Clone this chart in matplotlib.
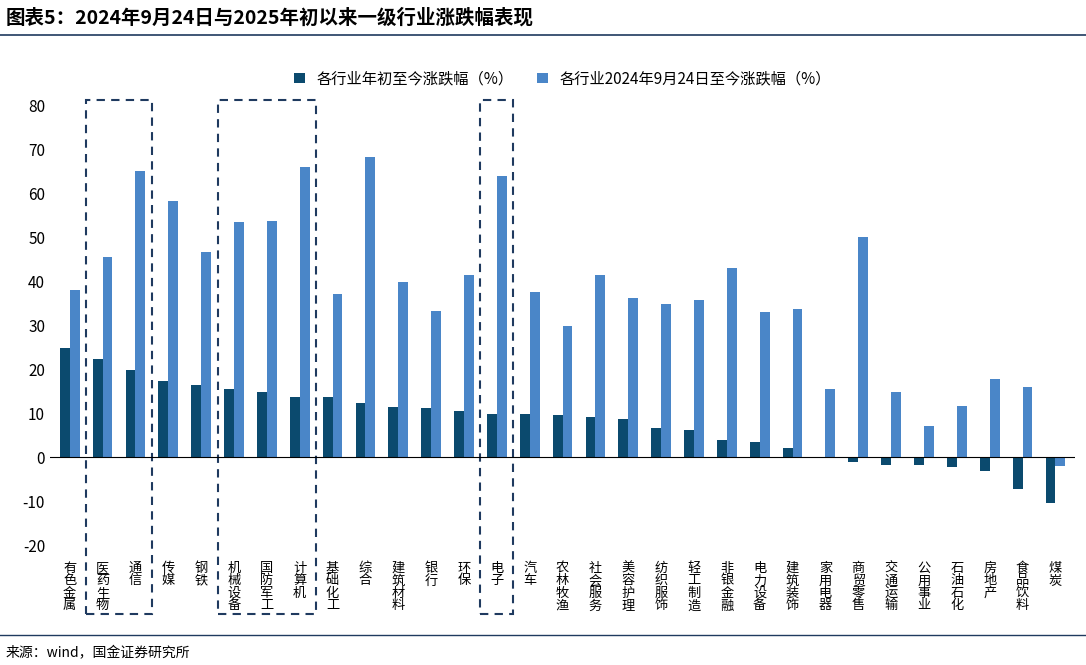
import matplotlib.pyplot as plt
import numpy as np
from matplotlib.patches import Rectangle
from matplotlib.transforms import blended_transform_factory

plt.rcParams['font.family'] = 'Noto Sans CJK SC'
plt.rcParams['axes.unicode_minus'] = False

industries = ['有色金属', '医药生物', '通信', '传媒', '钢铁', '机械设备', '国防军工', '计算机',
              '基础化工', '综合', '建筑材料', '银行', '环保', '电子', '汽车', '农林牧渔',
              '社会服务', '美容护理', '纺织服饰', '轻工制造', '非银金融', '电力设备', '建筑装饰',
              '家用电器', '商贸零售', '交通运输', '公用事业', '石油石化', '房地产', '食品饮料', '煤炭']
ytd = [24.8, 22.3, 19.9, 17.4, 16.4, 15.6, 14.8, 13.8, 13.6, 12.3, 11.4, 11.2, 10.6, 9.8, 9.8,
       9.5, 9.1, 8.8, 6.6, 6.2, 4.0, 3.4, 2.1, -0.2, -1.1, -1.7, -1.8, -2.3, -3.1, -7.2, -10.4]
since_924 = [37.9, 45.5, 65.0, 58.3, 46.7, 53.4, 53.7, 66.0, 37.1, 68.1, 39.7, 33.3, 41.4, 63.9,
             37.6, 29.8, 41.3, 36.2, 34.7, 35.8, 43.0, 33.0, 33.6, 15.5, 50.0, 14.8, 7.0, 11.7,
             17.7, 16.0, -2.0]
boxes = [(1, 2), (5, 7), (13, 13)]

fig = plt.figure(figsize=(10.86, 6.65), dpi=100)
ax = fig.add_axes([0.046, 0.18, 0.944, 0.662])
x = np.arange(len(industries))
w = 0.3
ax.bar(x - w / 2, ytd, w, color='#0b4a6e', label='各行业年初至今涨跌幅（%）')
ax.bar(x + w / 2, since_924, w, color='#4a86c8', label='各行业2024年9月24日至今涨跌幅（%）')
ax.set_ylim(-20, 80)
ax.set_yticks(range(-20, 81, 10))
ax.set_xlim(-0.6, len(industries) - 0.4)
ax.set_xticks(x)
ax.set_xticklabels(['\n'.join(s) for s in industries], fontsize=9.5, linespacing=0.95, va='top')
ax.tick_params(axis='x', length=0, pad=12)
ax.tick_params(axis='y', length=0, labelsize=11)
for s in ['top', 'right', 'left', 'bottom']:
    ax.spines[s].set_visible(False)
ax.axhline(0, color='black', lw=0.8)
ax.legend(loc='upper center', bbox_to_anchor=(0.5, 1.11), ncol=2, frameon=False, fontsize=11,
          handlelength=0.7, handleheight=0.7, columnspacing=1.5)

tr = blended_transform_factory(ax.transData, ax.transAxes)
for a, b in boxes:
    ax.add_patch(Rectangle((a - 0.5, -0.155), b - a + 1, 1.166, transform=tr, fill=False,
                           ls=(0, (4, 3)), lw=1.5, ec='#1f3a5f', clip_on=False))

fig.text(0.005, 0.965, '图表5：2024年9月24日与2025年初以来一级行业涨跌幅表现', fontsize=14,
         fontweight='bold', style='italic')
fig.add_artist(plt.Line2D([0.0, 1.0], [0.947, 0.947], color='#1f3a5f', lw=1.2))
fig.add_artist(plt.Line2D([0.0, 1.0], [0.045, 0.045], color='#1f3a5f', lw=1.0))
fig.text(0.005, 0.012, '来源：wind，国金证券研究所', fontsize=10)

fig.savefig('out.png', dpi=100)
